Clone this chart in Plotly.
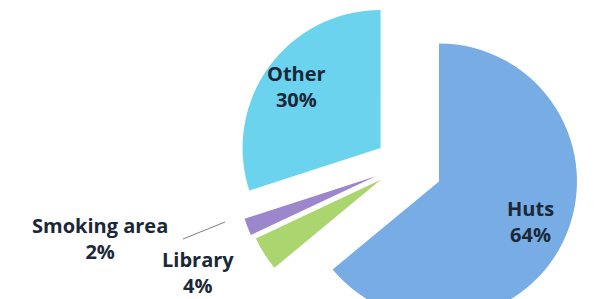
import math
import plotly.graph_objects as go

labels = ["Huts", "Library", "Smoking area", "Other"]
values = [64, 4, 2, 30]
pct_text = ["64%", "4%", "2%", "30%"]
colors = ["#78ACE5", "#ABD56E", "#9C86CC", "#6CD3EE"]
pulls = [0.28, 0.20, 0.22, 0.21]

W, H = 597, 315
R = 138
CX, CY = 396, 157

total = sum(values)
fig = go.Figure()
cum = 0
for i, v in enumerate(values):
    mid = (cum + v / 2) / total * 2 * math.pi
    cum += v
    ax = CX + pulls[i] * R * math.sin(mid)
    ay = CY - pulls[i] * R * math.cos(mid)
    cols = [colors[j] if j == i else "rgba(0,0,0,0)" for j in range(len(values))]
    fig.add_trace(go.Pie(
        labels=labels, values=values, sort=False, direction="clockwise", rotation=0,
        marker=dict(colors=cols, line=dict(width=0)),
        textinfo="none", hoverinfo="skip", showlegend=False,
        domain=dict(x=[max(0, (ax - R) / W), min(1, (ax + R) / W)],
                    y=[max(0, 1 - (ay + R) / H), min(1, 1 - (ay - R) / H)]),
    ))

label_pos = {"Huts": (522, 213), "Other": (288, 78), "Smoking area": (92, 231), "Library": (190, 264)}
for lab, p in zip(labels, pct_text):
    x, y = label_pos[lab]
    fig.add_annotation(x=x / W, y=1 - y / H, xref="paper", yref="paper",
                       text=f"<b>{lab}<br>{p}</b>", showarrow=False,
                       font=dict(family="Open Sans", size=20, color="#1B2838"),
                       xanchor="center", yanchor="middle")

fig.add_shape(type="line", xref="paper", yref="paper",
              x0=175 / W, y0=1 - 231 / H, x1=217 / W, y1=1 - 214 / H,
              line=dict(color="#7F7F7F", width=1))

fig.update_layout(width=W, height=H, margin=dict(l=0, r=0, t=0, b=0),
                  paper_bgcolor="white", plot_bgcolor="white")
fig.write_html("out.html")
